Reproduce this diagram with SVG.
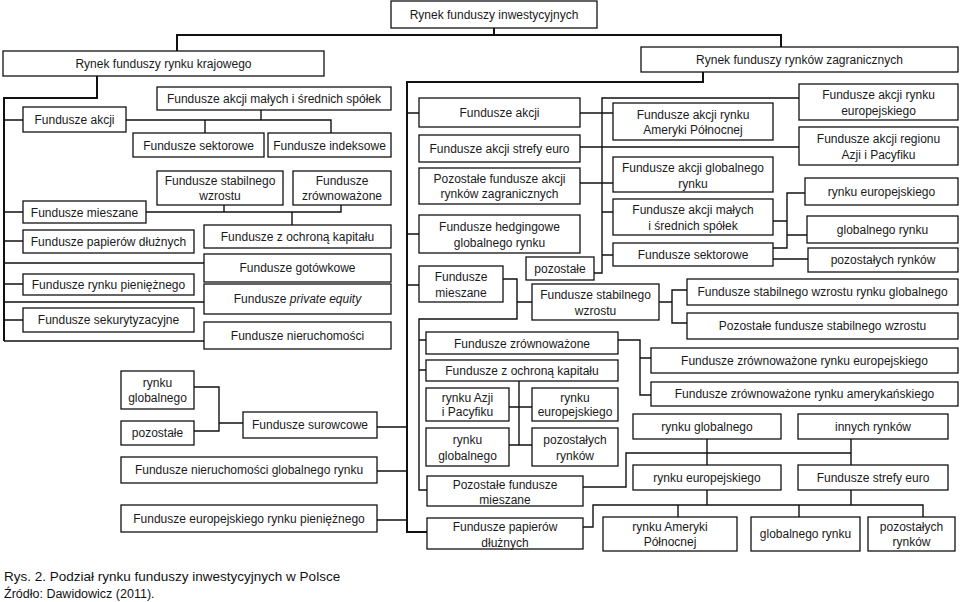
<svg xmlns="http://www.w3.org/2000/svg" width="960" height="602" viewBox="0 0 960 602">
<style>
.b{fill:#fff;stroke:#111;stroke-width:1.3}
.t{font-family:"Liberation Sans",Arial,sans-serif;font-size:12px;fill:#1a1a1a;text-anchor:middle}
.c{fill:none;stroke:#111;stroke-width:1.4}
.m{fill:none;stroke:#111;stroke-width:2}
.cap{font-family:"Liberation Sans",Arial,sans-serif;fill:#111}
</style>
<rect width="960" height="602" fill="#fff"/>
<g id="connectors">
<path class="m" d="M494 28V35M177 51V35H781V47"/>
<path class="m" d="M97 76V98H4V341"/>
<path class="m" d="M703 72V82H407V532H427"/>
<path class="c" d="M4 120H23M4 212H23M4 241H23M4 263H204M4 284H23M4 302H204M4 320H23M4 341H204"/>
<path class="c" d="M126 120H331V133M261 110V120M205 120V133"/>
<path class="c" d="M146 212H341V205M224 205V212M292 212V225"/>
<path class="c" d="M194 387H219V431H194M219 423H243M377 427H407M377 471H407M377 520H407"/>
<path class="c" d="M407 113H419M407 234H419M407 285H419"/>
<path class="c" d="M580 113H613M580 147H799M580 183H613M799 98H602V273H594M602 212H613M602 255H613"/>
<path class="c" d="M773 221H787M805 193H787V248H773M787 235H807M773 259H808"/>
<path class="c" d="M503 279H517V319H419V490H427M517 302H532M419 340H426M419 370H426"/>
<path class="c" d="M618 340H640V395H651M640 358H651"/>
<path class="c" d="M659 302H672M687 290H672V323H687"/>
<path class="c" d="M519 381V445M509 407H532M509 445H532"/>
<path class="c" d="M583 487H626V453H851M707 439V465M851 439V465"/>
<path class="c" d="M583 527H593V505H923V517M678 505V517M707 490V505M799 505V517M851 490V505"/>
</g>
<g id="n1"><rect class="b" x="391" y="1" width="206" height="27"/><text class="t" x="494" y="19">Rynek funduszy inwestycyjnych</text></g>
<g id="n2"><rect class="b" x="3" y="51" width="321" height="25"/><text class="t" x="163.5" y="68">Rynek funduszy rynku krajowego</text></g>
<g id="n3"><rect class="b" x="641" y="47" width="317" height="25"/><text class="t" x="799.5" y="64">Rynek funduszy rynków zagranicznych</text></g>

<g id="d1"><rect class="b" x="23" y="107" width="103" height="25"/><text class="t" x="74.5" y="124">Fundusze akcji</text></g>
<g id="d2"><rect class="b" x="157" y="87" width="234" height="23"/><text class="t" x="274" y="103">Fundusze akcji małych i średnich spółek</text></g>
<g id="d3"><rect class="b" x="133" y="133" width="131" height="24"/><text class="t" x="198.5" y="149.5">Fundusze sektorowe</text></g>
<g id="d4"><rect class="b" x="268" y="133" width="123" height="24"/><text class="t" x="329.5" y="149.5">Fundusze indeksowe</text></g>
<g id="d5"><rect class="b" x="157" y="171" width="126" height="34"/><text class="t" x="220" y="184.5">Fundusze stabilnego</text><text class="t" x="220" y="200">wzrostu</text></g>
<g id="d6"><rect class="b" x="293" y="171" width="98" height="34"/><text class="t" x="342" y="184.5">Fundusze</text><text class="t" x="342" y="200">zrównoważone</text></g>
<g id="d7"><rect class="b" x="23" y="201" width="123" height="22"/><text class="t" x="84.5" y="216.5">Fundusze mieszane</text></g>
<g id="d8"><rect class="b" x="204" y="225" width="187" height="23"/><text class="t" x="297.5" y="241">Fundusze z ochroną kapitału</text></g>
<g id="d9"><rect class="b" x="23" y="230" width="171" height="23"/><text class="t" x="108.5" y="246">Fundusze papierów dłużnych</text></g>
<g id="d10"><rect class="b" x="204" y="254" width="187" height="28"/><text class="t" x="297.5" y="272">Fundusze gotówkowe</text></g>
<g id="d11"><rect class="b" x="23" y="274" width="171" height="21"/><text class="t" x="108.5" y="289">Fundusze rynku pieniężnego</text></g>
<g id="d12"><rect class="b" x="204" y="284" width="187" height="30"/><text class="t" x="297.5" y="303">Fundusze <tspan font-style="italic">private equity</tspan></text></g>
<g id="d13"><rect class="b" x="23" y="308" width="171" height="24"/><text class="t" x="108.5" y="324">Fundusze sekurytyzacyjne</text></g>
<g id="d14"><rect class="b" x="204" y="322" width="187" height="27"/><text class="t" x="297.5" y="340">Fundusze nieruchomości</text></g>

<g id="g1"><rect class="b" x="121" y="371" width="73" height="38"/><text class="t" x="157.5" y="386.5">rynku</text><text class="t" x="157.5" y="402">globalnego</text></g>
<g id="g2"><rect class="b" x="121" y="421" width="73" height="24"/><text class="t" x="157.5" y="437">pozostałe</text></g>
<g id="g3"><rect class="b" x="243" y="412" width="134" height="26"/><text class="t" x="310" y="429">Fundusze surowcowe</text></g>
<g id="g4"><rect class="b" x="121" y="457" width="256" height="26"/><text class="t" x="249" y="474">Fundusze nieruchomości globalnego rynku</text></g>
<g id="g5"><rect class="b" x="121" y="505" width="256" height="27"/><text class="t" x="249" y="523">Fundusze europejskiego rynku pieniężnego</text></g>

<g id="m1"><rect class="b" x="419" y="98" width="161" height="29"/><text class="t" x="499.5" y="117">Fundusze akcji</text></g>
<g id="m2"><rect class="b" x="419" y="135" width="161" height="27"/><text class="t" x="499.5" y="152.5">Fundusze akcji strefy euro</text></g>
<g id="m3"><rect class="b" x="419" y="168" width="161" height="36"/><text class="t" x="499.5" y="182.5">Pozostałe fundusze akcji</text><text class="t" x="499.5" y="198">rynków zagranicznych</text></g>
<g id="m4"><rect class="b" x="419" y="215" width="161" height="38"/><text class="t" x="499.5" y="231">Fundusze hedgingowe</text><text class="t" x="499.5" y="246.5">globalnego rynku</text></g>
<g id="m5"><rect class="b" x="526" y="257" width="68" height="23"/><text class="t" x="560" y="273">pozostałe</text></g>
<g id="m6"><rect class="b" x="419" y="266" width="84" height="36"/><text class="t" x="461" y="281">Fundusze</text><text class="t" x="461" y="296.5">mieszane</text></g>
<g id="m7"><rect class="b" x="532" y="284" width="127" height="36"/><text class="t" x="595.5" y="299">Fundusze stabilnego</text><text class="t" x="595.5" y="314.5">wzrostu</text></g>
<g id="m8"><rect class="b" x="426" y="332" width="192" height="22"/><text class="t" x="522" y="347.5">Fundusze zrównoważone</text></g>
<g id="m9"><rect class="b" x="426" y="360" width="192" height="21"/><text class="t" x="522" y="375">Fundusze z ochroną kapitału</text></g>
<g id="m10"><rect class="b" x="426" y="388" width="83" height="33"/><text class="t" x="467.5" y="401.5">rynku Azji</text><text class="t" x="467.5" y="416">i Pacyfiku</text></g>
<g id="m11"><rect class="b" x="532" y="388" width="86" height="33"/><text class="t" x="575" y="401.5">rynku</text><text class="t" x="575" y="416">europejskiego</text></g>
<g id="m12"><rect class="b" x="426" y="428" width="83" height="38"/><text class="t" x="467.5" y="444">rynku</text><text class="t" x="467.5" y="459.5">globalnego</text></g>
<g id="m13"><rect class="b" x="532" y="428" width="86" height="38"/><text class="t" x="575" y="444">pozostałych</text><text class="t" x="575" y="459.5">rynków</text></g>
<g id="m14"><rect class="b" x="427" y="476" width="156" height="30"/><text class="t" x="505" y="488.5">Pozostałe fundusze</text><text class="t" x="505" y="504">mieszane</text></g>
<g id="m15"><rect class="b" x="427" y="518" width="156" height="31"/><text class="t" x="505" y="531">Fundusze papierów</text><text class="t" x="505" y="546.5">dłużnych</text></g>

<g id="r1"><rect class="b" x="613" y="103" width="160" height="37"/><text class="t" x="693" y="118.5">Fundusze akcji rynku</text><text class="t" x="693" y="134">Ameryki Północnej</text></g>
<g id="r2"><rect class="b" x="613" y="157" width="160" height="35"/><text class="t" x="693" y="172">Fundusze akcji globalnego</text><text class="t" x="693" y="187.5">rynku</text></g>
<g id="r3"><rect class="b" x="613" y="199" width="160" height="36"/><text class="t" x="693" y="214">Fundusze akcji małych</text><text class="t" x="693" y="229.5">i średnich spółek</text></g>
<g id="r4"><rect class="b" x="613" y="243" width="160" height="23"/><text class="t" x="693" y="259">Fundusze sektorowe</text></g>
<g id="r5"><rect class="b" x="799" y="84" width="159" height="36"/><text class="t" x="878.5" y="99">Fundusze akcji rynku</text><text class="t" x="878.5" y="114.5">europejskiego</text></g>
<g id="r6"><rect class="b" x="799" y="127" width="159" height="38"/><text class="t" x="878.5" y="143">Fundusze akcji regionu</text><text class="t" x="878.5" y="158.5">Azji i Pacyfiku</text></g>
<g id="r7"><rect class="b" x="805" y="178" width="153" height="27"/><text class="t" x="881.5" y="195.5">rynku europejskiego</text></g>
<g id="r8"><rect class="b" x="807" y="216" width="151" height="27"/><text class="t" x="882.5" y="233.5">globalnego rynku</text></g>
<g id="r9"><rect class="b" x="808" y="248" width="150" height="24"/><text class="t" x="883" y="264">pozostałych rynków</text></g>
<g id="r10"><rect class="b" x="687" y="279" width="271" height="26"/><text class="t" x="822.5" y="296">Fundusze stabilnego wzrostu rynku globalnego</text></g>
<g id="r11"><rect class="b" x="687" y="313" width="271" height="26"/><text class="t" x="822.5" y="330">Pozostałe fundusze stabilnego wzrostu</text></g>
<g id="r12"><rect class="b" x="651" y="348" width="307" height="25"/><text class="t" x="804.5" y="364.5">Fundusze zrównoważone rynku europejskiego</text></g>
<g id="r13"><rect class="b" x="651" y="382" width="307" height="24"/><text class="t" x="804.5" y="398">Fundusze zrównoważone rynku amerykańskiego</text></g>
<g id="r14"><rect class="b" x="633" y="414" width="148" height="25"/><text class="t" x="707" y="430.5">rynku globalnego</text></g>
<g id="r15"><rect class="b" x="798" y="414" width="150" height="25"/><text class="t" x="873" y="430.5">innych rynków</text></g>
<g id="r16"><rect class="b" x="633" y="465" width="148" height="25"/><text class="t" x="707" y="481.5">rynku europejskiego</text></g>
<g id="r17"><rect class="b" x="798" y="465" width="150" height="25"/><text class="t" x="873" y="481.5">Fundusze strefy euro</text></g>
<g id="r18"><rect class="b" x="603" y="517" width="134" height="34"/><text class="t" x="670" y="530.5">rynku Ameryki</text><text class="t" x="670" y="546">Północnej</text></g>
<g id="r19"><rect class="b" x="751" y="517" width="109" height="34"/><text class="t" x="805.5" y="538">globalnego rynku</text></g>
<g id="r20"><rect class="b" x="868" y="517" width="87" height="34"/><text class="t" x="911.5" y="530.5">pozostałych</text><text class="t" x="911.5" y="546">rynków</text></g>

<text class="cap" x="4" y="581" font-size="13.5">Rys. 2. Podział rynku funduszy inwestycyjnych w Polsce</text>
<text class="cap" x="4" y="598" font-size="12.5">Źródło: Dawidowicz (2011).</text>
</svg>
